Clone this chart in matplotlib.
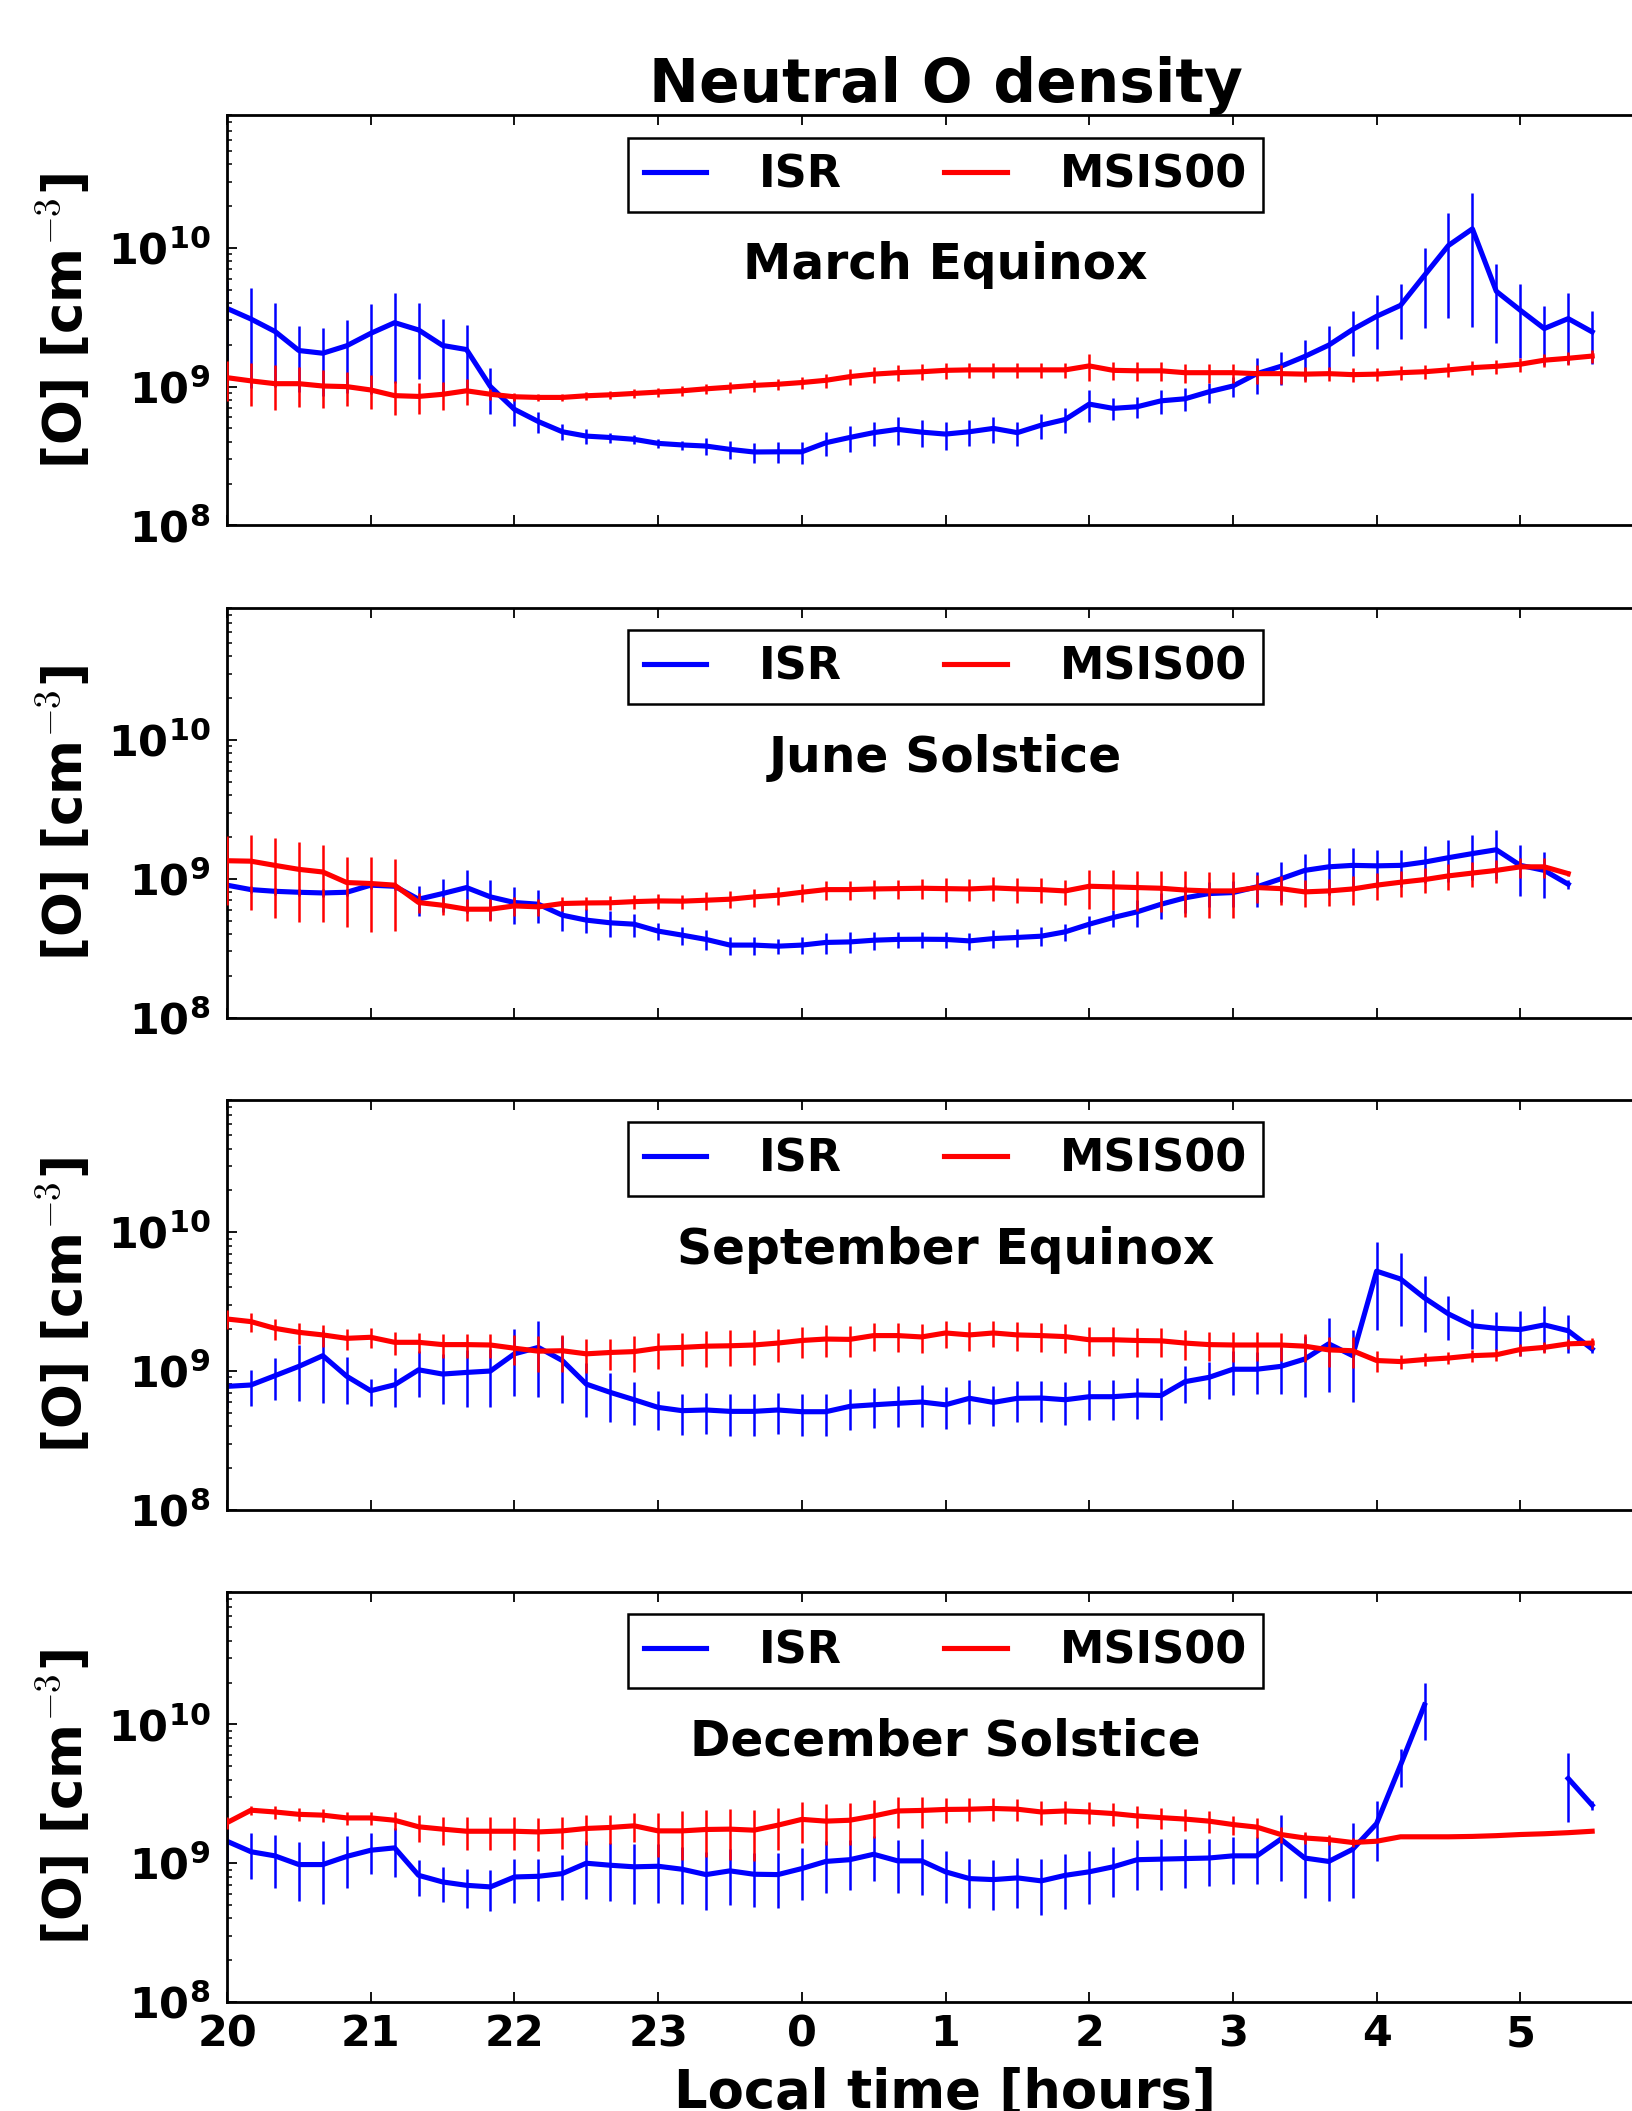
import numpy as np
import matplotlib
matplotlib.use("Agg")
import matplotlib.pyplot as plt
from matplotlib.ticker import FixedLocator, FuncFormatter, LogLocator, NullFormatter

# ---------------- data ----------------
# sample times: minutes after 20:00 local time
minutes_after_20 = [0, 10, 20, 30, 40, 50, 60, 70, 80, 90,
                    100, 110, 120, 130, 140, 150, 160, 170, 180, 190,
                    200, 210, 220, 230, 240, 250, 260, 270, 280, 290,
                    300, 310, 320, 330, 340, 350, 360, 370, 380, 390,
                    400, 410, 420, 430, 440, 450, 460, 470, 480, 490,
                    500, 510, 520, 530, 540, 550, 560, 570]
nan = float("nan")

hour_ticks = [20, 21, 22, 23, 24, 25, 26, 27, 28, 29]
hour_tick_labels = ["20", "21", "22", "23", "0", "1", "2", "3", "4", "5"]
panel_names = ["March Equinox", "June Solstice", "September Equinox", "December Solstice"]
series_names = ["ISR", "MSIS00"]

# densities in units of 1e9 cm^-3
isr_march = [3.66, 3.07, 2.50, 1.82, 1.74, 1.97, 2.42, 2.89, 2.56, 1.98,
             1.85, 1.00, 0.686, 0.560, 0.473, 0.440, 0.430, 0.417, 0.390, 0.380,
             0.373, 0.353, 0.338, 0.339, 0.339, 0.394, 0.430, 0.466, 0.492, 0.470,
             0.455, 0.473, 0.500, 0.466, 0.528, 0.580, 0.748, 0.697, 0.716, 0.790,
             0.817, 0.918, 1.01, 1.24, 1.40, 1.65, 1.99, 2.58, 3.21, 3.85,
             6.34, 10.4, 13.7, 4.86, 3.55, 2.62, 3.09, 2.48]
isr_march_err = [2.1, 2.1, 1.5, 0.90, 0.89, 1.07, 1.54, 1.83, 1.42, 1.07,
                 0.92, 0.37, 0.17, 0.10, 0.063, 0.052, 0.036, 0.030, 0.030, 0.028,
                 0.050, 0.050, 0.057, 0.057, 0.060, 0.079, 0.090, 0.093, 0.115, 0.104,
                 0.104, 0.100, 0.107, 0.093, 0.106, 0.117, 0.196, 0.125, 0.120, 0.154,
                 0.153, 0.150, 0.170, 0.36, 0.38, 0.53, 0.74, 0.93, 1.35, 1.65,
                 3.7, 7.3, 11.0, 2.8, 1.95, 1.18, 1.63, 1.03]
msis_march = [1.16, 1.10, 1.05, 1.05, 1.01, 1.00, 0.946, 0.861, 0.850, 0.880,
              0.933, 0.881, 0.845, 0.836, 0.836, 0.859, 0.873, 0.893, 0.913, 0.933,
              0.964, 0.991, 1.02, 1.04, 1.07, 1.11, 1.18, 1.23, 1.26, 1.28,
              1.31, 1.32, 1.32, 1.32, 1.32, 1.32, 1.41, 1.31, 1.30, 1.30,
              1.26, 1.26, 1.26, 1.24, 1.24, 1.23, 1.24, 1.22, 1.23, 1.26,
              1.28, 1.32, 1.37, 1.40, 1.45, 1.55, 1.60, 1.66]
msis_march_err = [0.37, 0.37, 0.37, 0.34, 0.31, 0.27, 0.26, 0.24, 0.22, 0.20,
                  0.20, 0.08, 0.06, 0.05, 0.05, 0.06, 0.06, 0.07, 0.07, 0.08,
                  0.08, 0.09, 0.10, 0.10, 0.11, 0.13, 0.15, 0.16, 0.17, 0.17,
                  0.17, 0.17, 0.17, 0.17, 0.17, 0.17, 0.32, 0.20, 0.20, 0.20,
                  0.20, 0.20, 0.20, 0.20, 0.20, 0.15, 0.15, 0.14, 0.14, 0.14,
                  0.14, 0.15, 0.15, 0.16, 0.17, 0.17, 0.18, 0.18]

isr_june = [0.900, 0.836, 0.813, 0.800, 0.791, 0.800, 0.900, 0.884, 0.713, 0.783,
            0.865, 0.741, 0.675, 0.656, 0.547, 0.504, 0.482, 0.471, 0.420, 0.393,
            0.366, 0.333, 0.333, 0.327, 0.333, 0.348, 0.351, 0.361, 0.366, 0.367,
            0.366, 0.357, 0.371, 0.378, 0.386, 0.415, 0.471, 0.526, 0.578, 0.656,
            0.729, 0.783, 0.796, 0.875, 1.00, 1.15, 1.22, 1.25, 1.24, 1.25,
            1.32, 1.42, 1.52, 1.62, 1.25, 1.15, 0.914, nan]
isr_june_err = [0.05, 0.05, 0.05, 0.05, 0.05, 0.05, 0.05, 0.05, 0.17, 0.21,
                0.30, 0.24, 0.20, 0.175, 0.125, 0.10, 0.10, 0.09, 0.06, 0.06,
                0.06, 0.05, 0.05, 0.04, 0.045, 0.06, 0.06, 0.055, 0.05, 0.05,
                0.05, 0.05, 0.055, 0.055, 0.06, 0.06, 0.07, 0.075, 0.125, 0.14,
                0.16, 0.16, 0.17, 0.25, 0.32, 0.35, 0.46, 0.43, 0.38, 0.37,
                0.39, 0.47, 0.54, 0.62, 0.50, 0.42, 0.07, nan]
msis_june = [1.35, 1.34, 1.25, 1.17, 1.12, 0.940, 0.925, 0.900, 0.675, 0.645,
             0.604, 0.604, 0.638, 0.628, 0.664, 0.670, 0.672, 0.685, 0.693, 0.690,
             0.701, 0.713, 0.741, 0.762, 0.800, 0.836, 0.836, 0.845, 0.850, 0.855,
             0.850, 0.845, 0.860, 0.845, 0.836, 0.818, 0.884, 0.875, 0.865, 0.855,
             0.830, 0.818, 0.818, 0.865, 0.850, 0.805, 0.818, 0.845, 0.900, 0.945,
             0.987, 1.05, 1.10, 1.15, 1.22, 1.22, 1.09, nan]
msis_june_err = [0.70, 0.74, 0.73, 0.68, 0.63, 0.49, 0.51, 0.48, 0.11, 0.10,
                 0.11, 0.11, 0.10, 0.09, 0.08, 0.07, 0.08, 0.08, 0.09, 0.08,
                 0.10, 0.10, 0.11, 0.11, 0.12, 0.13, 0.13, 0.13, 0.13, 0.14,
                 0.17, 0.15, 0.17, 0.17, 0.17, 0.17, 0.28, 0.28, 0.28, 0.28,
                 0.30, 0.30, 0.30, 0.20, 0.20, 0.18, 0.18, 0.20, 0.20, 0.20,
                 0.20, 0.22, 0.22, 0.22, 0.20, 0.20, 0.05, nan]

isr_september = [0.775, 0.793, 0.925, 1.08, 1.29, 0.916, 0.721, 0.796, 1.02, 0.951,
                 0.977, 1.00, 1.33, 1.48, 1.19, 0.805, 0.702, 0.621, 0.547, 0.518,
                 0.524, 0.512, 0.512, 0.524, 0.509, 0.509, 0.556, 0.571, 0.585, 0.598,
                 0.571, 0.636, 0.594, 0.636, 0.639, 0.621, 0.653, 0.653, 0.672, 0.666,
                 0.838, 0.900, 1.03, 1.03, 1.08, 1.22, 1.57, 1.29, 5.24, 4.60,
                 3.36, 2.58, 2.12, 2.03, 1.99, 2.15, 1.95, 1.44]
isr_september_err = [0.23, 0.23, 0.31, 0.47, 0.70, 0.34, 0.16, 0.25, 0.37, 0.37,
                     0.43, 0.45, 0.67, 0.83, 0.60, 0.34, 0.27, 0.21, 0.17, 0.17,
                     0.17, 0.17, 0.17, 0.17, 0.17, 0.17, 0.18, 0.18, 0.19, 0.20,
                     0.19, 0.22, 0.19, 0.21, 0.21, 0.21, 0.21, 0.21, 0.22, 0.22,
                     0.25, 0.27, 0.36, 0.35, 0.40, 0.57, 0.86, 0.69, 3.25, 2.50,
                     1.45, 0.92, 0.68, 0.62, 0.70, 0.78, 0.60, 0.10]
msis_september = [2.37, 2.27, 2.03, 1.90, 1.82, 1.72, 1.75, 1.61, 1.61, 1.55,
                  1.55, 1.54, 1.46, 1.39, 1.40, 1.33, 1.36, 1.38, 1.46, 1.48,
                  1.51, 1.52, 1.54, 1.59, 1.66, 1.70, 1.69, 1.80, 1.80, 1.76,
                  1.88, 1.82, 1.88, 1.82, 1.80, 1.77, 1.68, 1.68, 1.66, 1.65,
                  1.59, 1.55, 1.54, 1.54, 1.54, 1.51, 1.42, 1.40, 1.19, 1.17,
                  1.21, 1.24, 1.29, 1.31, 1.43, 1.48, 1.57, 1.59]
msis_september_err = [0.37, 0.37, 0.35, 0.33, 0.33, 0.30, 0.28, 0.30, 0.27, 0.30,
                      0.30, 0.30, 0.35, 0.41, 0.42, 0.37, 0.34, 0.40, 0.42, 0.40,
                      0.44, 0.44, 0.43, 0.43, 0.42, 0.43, 0.43, 0.40, 0.42, 0.42,
                      0.42, 0.42, 0.40, 0.42, 0.42, 0.42, 0.40, 0.40, 0.39, 0.39,
                      0.38, 0.37, 0.37, 0.36, 0.35, 0.35, 0.35, 0.35, 0.20, 0.13,
                      0.13, 0.12, 0.13, 0.13, 0.14, 0.14, 0.14, 0.14]

isr_december = [1.44, 1.21, 1.13, 0.978, 0.978, 1.12, 1.24, 1.29, 0.818, 0.733,
                0.693, 0.675, 0.796, 0.805, 0.842, 1.00, 0.967, 0.942, 0.951, 0.905,
                0.828, 0.881, 0.833, 0.828, 0.915, 1.03, 1.06, 1.16, 1.04, 1.04,
                0.867, 0.775, 0.762, 0.784, 0.746, 0.818, 0.867, 0.942, 1.06, 1.07,
                1.08, 1.09, 1.13, 1.13, 1.49, 1.09, 1.03, 1.26, 1.93, 5.10,
                13.8, nan, nan, nan, nan, nan, 4.08, 2.62]
isr_december_err = [0.45, 0.44, 0.47, 0.44, 0.47, 0.46, 0.40, 0.50, 0.24, 0.21,
                    0.22, 0.22, 0.28, 0.27, 0.30, 0.45, 0.43, 0.43, 0.43, 0.40,
                    0.37, 0.38, 0.35, 0.35, 0.37, 0.42, 0.42, 0.42, 0.43, 0.45,
                    0.35, 0.30, 0.30, 0.31, 0.32, 0.35, 0.36, 0.37, 0.42, 0.43,
                    0.42, 0.40, 0.42, 0.42, 0.75, 0.53, 0.50, 0.70, 0.90, 1.55,
                    6.1, nan, nan, nan, nan, nan, 2.1, 0.2]
msis_december = [1.96, 2.41, 2.34, 2.25, 2.22, 2.12, 2.12, 2.04, 1.83, 1.76,
                 1.70, 1.70, 1.70, 1.68, 1.71, 1.78, 1.81, 1.86, 1.71, 1.71,
                 1.75, 1.76, 1.73, 1.88, 2.07, 2.01, 2.04, 2.19, 2.38, 2.40,
                 2.44, 2.45, 2.48, 2.45, 2.34, 2.38, 2.34, 2.28, 2.19, 2.13,
                 2.08, 2.01, 1.90, 1.82, 1.61, 1.52, 1.48, 1.41, 1.44, 1.55,
                 1.55, 1.55, 1.56, 1.58, 1.61, 1.63, 1.66, 1.70]
msis_december_err = [0.20, 0.17, 0.25, 0.25, 0.25, 0.22, 0.22, 0.30, 0.40, 0.40,
                     0.45, 0.45, 0.45, 0.45, 0.45, 0.43, 0.43, 0.43, 0.60, 0.65,
                     0.65, 0.70, 0.70, 0.63, 0.67, 0.65, 0.68, 0.66, 0.60, 0.60,
                     0.50, 0.48, 0.48, 0.45, 0.45, 0.45, 0.43, 0.42, 0.40, 0.38,
                     0.36, 0.35, 0.30, 0.30, 0.20, 0.15, 0.13, 0.10, 0.0, 0.0,
                     0.0, 0.0, 0.0, 0.0, 0.0, 0.0, 0.0, 0.0]

isr_all = [isr_march, isr_june, isr_september, isr_december]
isr_err_all = [isr_march_err, isr_june_err, isr_september_err, isr_december_err]
msis_all = [msis_march, msis_june, msis_september, msis_december]
msis_err_all = [msis_march_err, msis_june_err, msis_september_err, msis_december_err]

# ---------------- style ----------------
plt.rcParams.update({
    "font.family": ["DejaVu Sans"],
    "font.weight": "bold",
    "axes.labelweight": "bold",
    "axes.titleweight": "bold",
    "mathtext.fontset": "dejavusans",
})

W, H = 1632, 2111
fig = plt.figure(figsize=(W / 100, H / 100), dpi=100)

left_px, axw_px, axh_px = 227, 1437, 410
tops_px = [115.4, 607.6, 1099.8, 1592.0]

hours = np.array(minutes_after_20) / 60.0 + 20.0
SCALE = 1e9
LINE_W = 3.7
ERR_W = 1.8


def log_fmt(v, pos):
    if v <= 0:
        return ""
    return r"$\mathbf{10^{%d}}$" % int(round(np.log10(v)))


axes = []
for k in range(4):
    b = 1 - (tops_px[k] + axh_px) / H
    ax = fig.add_axes([left_px / W, b, axw_px / W, axh_px / H])
    axes.append(ax)

    isr = np.array(isr_all[k]) * SCALE
    isr_e = np.array(isr_err_all[k]) * SCALE
    ms = np.array(msis_all[k]) * SCALE
    ms_e = np.array(msis_err_all[k]) * SCALE

    eb1 = ax.errorbar(hours, isr, yerr=isr_e, color="#0000ff", linewidth=LINE_W,
                      elinewidth=ERR_W, capsize=0, zorder=2)
    eb2 = ax.errorbar(hours, ms, yerr=ms_e, color="#ff0000", linewidth=LINE_W,
                      elinewidth=ERR_W, capsize=0, zorder=3)
    eb1[0].set_linewidth(LINE_W)
    eb2[0].set_linewidth(LINE_W)

    ax.set_yscale("log", nonpositive="clip")
    ax.set_ylim(1e8, 9e10)
    ax.set_xlim(20, 30)

    ax.xaxis.set_major_locator(FixedLocator(hour_ticks))
    if k == 3:
        ax.set_xticklabels(hour_tick_labels)
    else:
        ax.set_xticklabels([])
    ax.yaxis.set_major_locator(LogLocator(base=10, numticks=10))
    ax.yaxis.set_minor_locator(LogLocator(base=10, subs=np.arange(2, 10), numticks=20))
    ax.yaxis.set_major_formatter(FuncFormatter(log_fmt))
    ax.yaxis.set_minor_formatter(NullFormatter())

    ax.tick_params(axis="both", which="both", direction="in",
                   top=True, right=True, bottom=True, left=True)
    ax.tick_params(axis="both", which="major", length=7, width=1.3)
    ax.tick_params(axis="y", which="minor", length=3.5, width=1.1)
    ax.tick_params(axis="x", which="major", labelsize=31, pad=8)
    ax.tick_params(axis="y", which="major", labelsize=31, pad=12)
    for s in ax.spines.values():
        s.set_linewidth(2.0)

    ax.set_ylabel("[O] [cm$^{-3}$]", fontsize=38, fontweight="bold")
    ax.yaxis.label.set_math_fontfamily("cm")
    ax.yaxis.set_label_coords(-0.093, 0.5)

    leg = ax.legend([eb1[0], eb2[0]], series_names, loc="upper center", ncol=2,
                    prop={"size": 32, "weight": "bold"}, frameon=True,
                    fancybox=False, framealpha=1.0, edgecolor="black",
                    borderpad=0.35, handlelength=1.4, handletextpad=1.2,
                    columnspacing=2.3, borderaxespad=0.5)
    leg.get_frame().set_linewidth(1.8)
    for ln in leg.get_lines():
        ln.set_linewidth(LINE_W)

    ax.text(0.5, 0.600, panel_names[k], transform=ax.transAxes, ha="center",
            va="baseline", fontsize=35, fontweight="bold")

axes[0].set_title("Neutral O density", fontsize=43, fontweight="bold", pad=8.5)
axes[3].set_xlabel("Local time [hours]", fontsize=38, fontweight="bold")
axes[3].xaxis.set_label_coords(0.5, -0.159)
axes[3].xaxis.label.set_verticalalignment("top")

fig.savefig("out.png", dpi=100)
